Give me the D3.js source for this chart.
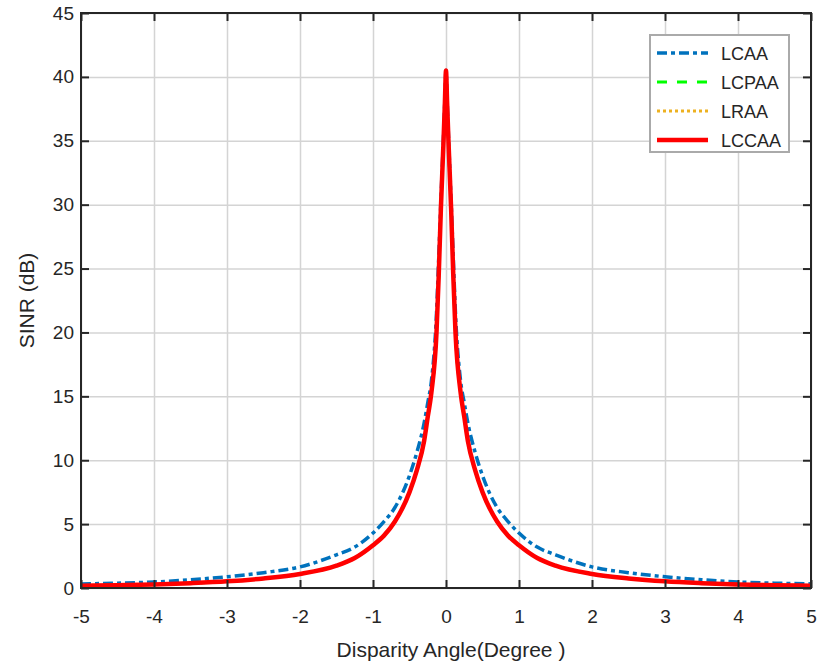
<!DOCTYPE html>
<html>
<head>
<meta charset="utf-8">
<script src="https://cdn.jsdelivr.net/npm/d3@7"></script>
<style>
  body { margin: 0; background: #fff; }
  text { font-family: "Liberation Sans", Arial, sans-serif; fill: #262626; }
</style>
</head>
<body>
<script>
// datos
const angles = [-5, -4.5, -4, -3.5, -3, -2.5, -2, -1.5, -1.25, -1, -0.85, -0.7, -0.5, -0.4, -0.3, -0.25, -0.2, -0.13, -0.1, -0.07, -0.035, -0.015,
  0, 0.015, 0.035, 0.07, 0.1, 0.13, 0.2, 0.25, 0.3, 0.4, 0.5, 0.7, 0.85, 1, 1.25, 1.5, 2, 2.5, 3, 3.5, 4, 4.5, 5];
const lcaa = [0.32, 0.38, 0.47, 0.65, 0.88, 1.2, 1.65, 2.6, 3.2, 4.3, 5.2, 6.3, 8.8, 10.6, 12.9, 14.5, 16.2, 21.5, 25.8, 30.3, 35.2, 38.3,
  40.5, 38.3, 35.2, 30.3, 25.8, 21.5, 16.2, 14.5, 12.9, 10.6, 8.8, 6.3, 5.2, 4.3, 3.2, 2.6, 1.65, 1.2, 0.88, 0.65, 0.47, 0.38, 0.32];
const lcpaa = [0.18, 0.22, 0.28, 0.38, 0.52, 0.75, 1.1, 1.75, 2.35, 3.35, 4.1, 5.2, 7.5, 9.2, 11.5, 13.4, 15.3, 20, 24.4, 29.7, 34.8, 38,
  40.5, 38, 34.8, 29.7, 24.4, 20, 15.3, 13.4, 11.5, 9.2, 7.5, 5.2, 4.1, 3.35, 2.35, 1.75, 1.1, 0.75, 0.52, 0.38, 0.28, 0.22, 0.18];
const lraa = [0.18, 0.22, 0.28, 0.38, 0.52, 0.75, 1.1, 1.75, 2.35, 3.35, 4.1, 5.2, 7.5, 9.2, 11.5, 13.4, 15.3, 20, 24.4, 29.7, 34.8, 38,
  40.5, 38, 34.8, 29.7, 24.4, 20, 15.3, 13.4, 11.5, 9.2, 7.5, 5.2, 4.1, 3.35, 2.35, 1.75, 1.1, 0.75, 0.52, 0.38, 0.28, 0.22, 0.18];
const lccaa = [0.18, 0.22, 0.28, 0.38, 0.52, 0.75, 1.1, 1.75, 2.35, 3.35, 4.1, 5.2, 7.5, 9.2, 11.5, 13.4, 15.3, 20, 24.4, 29.7, 34.8, 38,
  40.5, 38, 34.8, 29.7, 24.4, 20, 15.3, 13.4, 11.5, 9.2, 7.5, 5.2, 4.1, 3.35, 2.35, 1.75, 1.1, 0.75, 0.52, 0.38, 0.28, 0.22, 0.18];
const xTicks = [-5, -4, -3, -2, -1, 0, 1, 2, 3, 4, 5];
const yTicks = [0, 5, 10, 15, 20, 25, 30, 35, 40, 45];
const seriesNames = ["LCAA", "LCPAA", "LRAA", "LCCAA"];

let margin = {top: 13, right: 11, bottom: 81, left: 81},
    width = 822 - margin.left - margin.right,
    height = 669 - margin.top - margin.bottom;

let x = d3.scaleLinear().domain([-5, 5]).range([0, width]);
let y = d3.scaleLinear().domain([0, 45]).range([height, 0]);

let svg = d3.select("body").append("svg")
    .attr("width", 822)
    .attr("height", 669)
    .append("g")
    .attr("transform", "translate(" + margin.left + "," + margin.top + ")");

// rejilla
svg.append("g")
    .call(d3.axisBottom(x).tickValues(xTicks).tickSize(height).tickFormat(""))
    .call(g => g.select(".domain").remove())
    .selectAll("line").attr("stroke", "#d4d4d4").attr("stroke-width", 1.5);
svg.append("g")
    .call(d3.axisLeft(y).tickValues(yTicks).tickSize(-width).tickFormat(""))
    .call(g => g.select(".domain").remove())
    .selectAll("line").attr("stroke", "#d4d4d4").attr("stroke-width", 1.5);

// curvas
let styles = [
  {data: lcaa, color: "#0072BD", width: 3.5, dash: "10,4,4,4"},
  {data: lcpaa, color: "#00FF00", width: 3, dash: "10,10"},
  {data: lraa, color: "#EDB120", width: 3, dash: "3,3"},
  {data: lccaa, color: "#FF0000", width: 4.5, dash: null}
];
let line = d3.line().x((d, i) => x(angles[i])).y(d => y(d)).curve(d3.curveMonotoneX);
styles.forEach(s => {
  svg.append("path")
      .datum(s.data)
      .attr("fill", "none")
      .attr("stroke", s.color)
      .attr("stroke-width", s.width)
      .attr("stroke-dasharray", s.dash)
      .attr("d", line);
});

// ejes
let xAxis = svg.append("g")
    .attr("transform", "translate(0," + height + ")")
    .call(d3.axisBottom(x).tickValues(xTicks).tickSize(-8).tickPadding(22).tickFormat(d3.format("")));
let yAxis = svg.append("g")
    .call(d3.axisLeft(y).tickValues(yTicks).tickSize(-8).tickPadding(7));
[xAxis, yAxis].forEach(a => {
  a.selectAll("line").attr("stroke", "#262626").attr("stroke-width", 2);
  a.select(".domain").remove();
  a.selectAll("text").style("font-size", "19px").attr("fill", "#262626")
    .style("font-family", "'Liberation Sans', Arial, sans-serif");
});
xAxis.selectAll("text").text(d => d < 0 ? "-" + Math.abs(d) : d);
// marcas arriba y derecha
svg.append("g")
    .call(d3.axisTop(x).tickValues(xTicks).tickSize(-8).tickFormat(""))
    .call(g => g.select(".domain").remove())
    .selectAll("line").attr("stroke", "#262626").attr("stroke-width", 2);
svg.append("g")
    .attr("transform", "translate(" + width + ",0)")
    .call(d3.axisRight(y).tickValues(yTicks).tickSize(-8).tickFormat(""))
    .call(g => g.select(".domain").remove())
    .selectAll("line").attr("stroke", "#262626").attr("stroke-width", 2);

svg.append("rect")
    .attr("width", width).attr("height", height)
    .attr("fill", "none").attr("stroke", "#262626").attr("stroke-width", 2);

// etiquetas
svg.append("text")
    .attr("x", width / 2 + 5).attr("y", height + 69)
    .attr("text-anchor", "middle")
    .style("font-size", "21px")
    .text("Disparity Angle(Degree )");
svg.append("text")
    .attr("transform", "translate(-47," + (height / 2) + ") rotate(-90)")
    .attr("text-anchor", "middle")
    .style("font-size", "21px")
    .text("SINR (dB)");

// leyenda
let legend = svg.append("g").attr("transform", "translate(" + (650 - margin.left) + "," + (35 - margin.top) + ")");
legend.append("rect")
    .attr("width", 139).attr("height", 117)
    .attr("fill", "#fff").attr("stroke", "#aaaaaa").attr("stroke-width", 2);
styles.forEach((s, i) => {
  let yy = 18 + i * 29;
  legend.append("line")
      .attr("x1", 7).attr("x2", 58).attr("y1", yy).attr("y2", yy)
      .attr("stroke", s.color).attr("stroke-width", s.width)
      .attr("stroke-dasharray", s.dash);
  legend.append("text")
      .attr("x", 71).attr("y", yy + 7)
      .style("font-size", "18px")
      .text(seriesNames[i]);
});
</script>
</body>
</html>
